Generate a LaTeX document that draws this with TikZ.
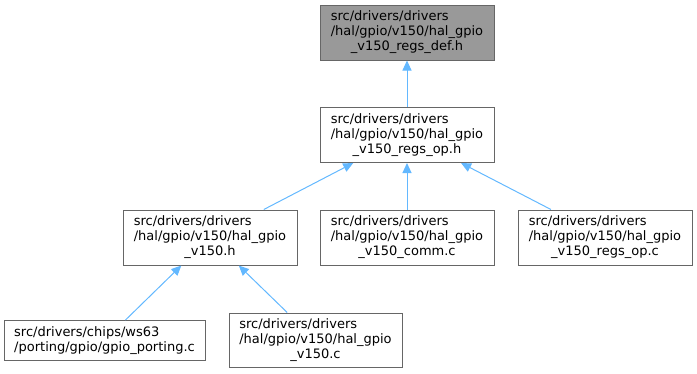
\documentclass[tikz,border=0pt]{standalone}
\usepackage{fontspec}
\setmainfont{DejaVu Sans}
\usetikzlibrary{arrows.meta}
\definecolor{cEDGE}{HTML}{63B8FF}
\definecolor{cLINE}{HTML}{666666}
\definecolor{cTOP}{HTML}{999999}
\newcommand{\lastln}[1]{\hspace*{\fill}#1\hspace*{\fill}}

\begin{document}
\begin{tikzpicture}[x=1pt, y=-1pt, font=\fontsize{13}{15}\selectfont,
  file/.style={draw=cLINE, line width=1pt, align=left, inner sep=0pt,
    minimum width=174pt, minimum height=55pt},
  dep/.style={draw=cEDGE, line width=1pt, -{Triangle[length=10pt, width=9pt]}}]
\useasboundingbox (0,0) rectangle (697,373);
\node[file, fill=cTOP] (def) at (407,32.5) {src/drivers/drivers\\/hal/gpio/v150/hal\_gpio\\\lastln{\_v150\_regs\_def.h}};
\node[file] (oph) at (407,135) {src/drivers/drivers\\/hal/gpio/v150/hal\_gpio\\\lastln{\_v150\_regs\_op.h}};
\node[file] (v150h) at (210,237.5) {src/drivers/drivers\\/hal/gpio/v150/hal\_gpio\\\lastln{\_v150.h}};
\node[file] (comm) at (407,237.5) {src/drivers/drivers\\/hal/gpio/v150/hal\_gpio\\\lastln{\_v150\_comm.c}};
\node[file] (opc) at (605,237.5) {src/drivers/drivers\\/hal/gpio/v150/hal\_gpio\\\lastln{\_v150\_regs\_op.c}};
\node[file, minimum width=201pt, minimum height=40pt] (port) at (104.5,340.5) {src/drivers/chips/ws63\\/porting/gpio/gpio\_porting.c};
\node[file, minimum width=173pt, minimum height=54pt] (v150c) at (315.5,340) {src/drivers/drivers\\/hal/gpio/v150/hal\_gpio\\\lastln{\_v150.c}};
\foreach \a/\b in {oph/def, v150h/oph, comm/oph, opc/oph, port/v150h, v150c/v150h}
  \draw[dep] (\a) -- (\b);
\end{tikzpicture}
\end{document}
